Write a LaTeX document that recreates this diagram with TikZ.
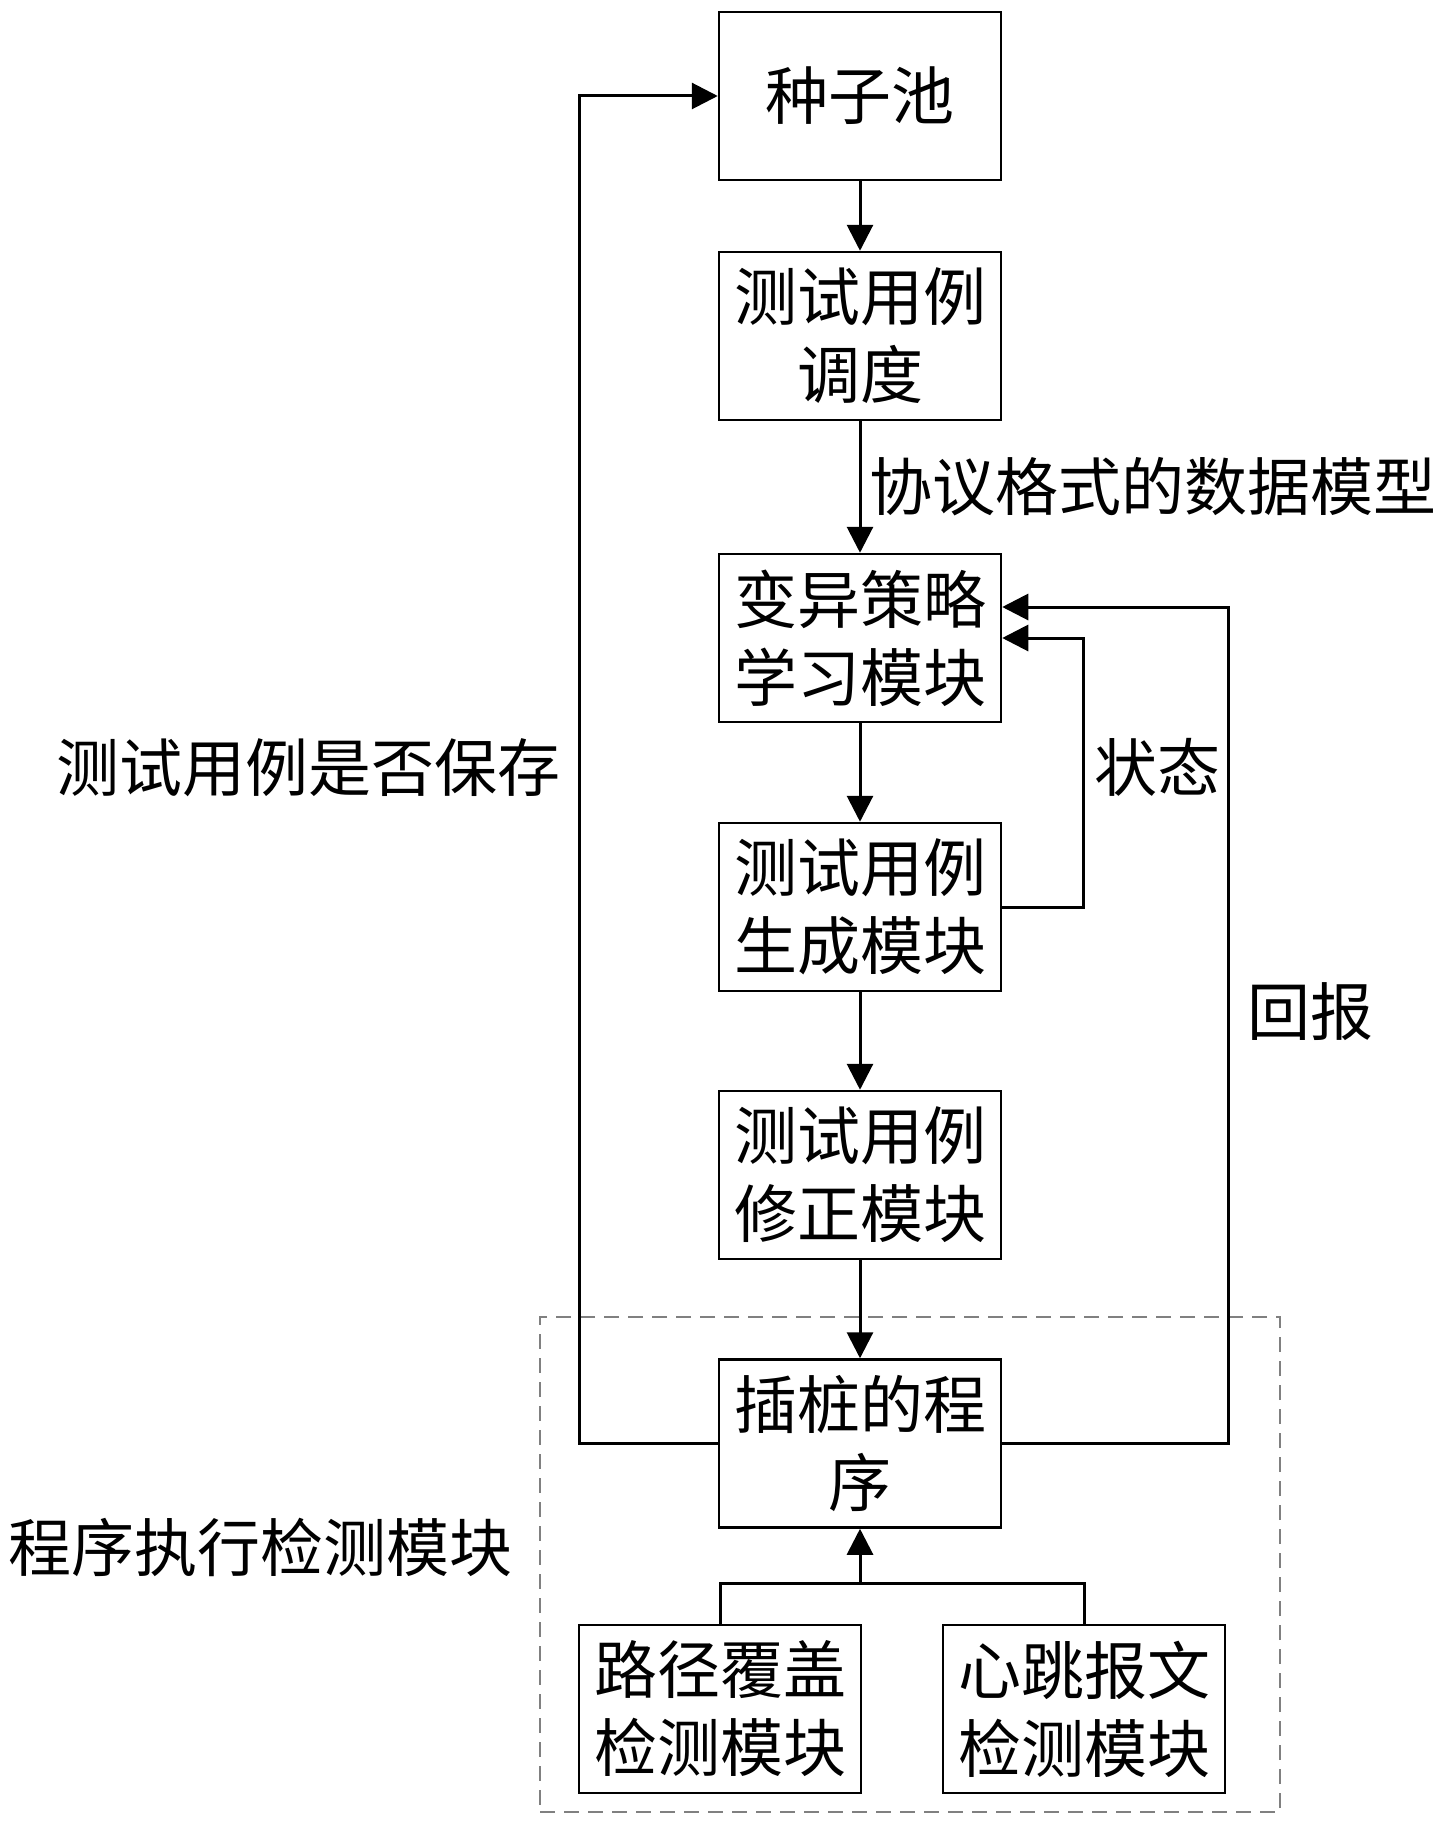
\documentclass[tikz,border=0pt]{standalone}
\usepackage{fontspec}
\newfontfamily\cjk{Noto Sans CJK SC}
\usetikzlibrary{arrows.meta}
\tikzset{
  box/.style={draw, line width=2.5pt, minimum width=282pt, minimum height=168pt, inner sep=0pt, align=center, font=\cjk\fontsize{63}{78}\selectfont},
  lbl/.style={anchor=west, inner sep=0pt, font=\cjk\fontsize{63}{78}\selectfont},
  conn/.style={line width=3pt},
  arr/.style={conn, -{Triangle[length=26pt,width=26pt]}},
  grpbox/.style={draw=gray, line width=1.6pt, dash pattern=on 15pt off 9pt, minimum width=740pt, minimum height=495pt, inner sep=0pt}
}
\begin{document}
\begin{tikzpicture}[x=1pt,y=-1pt]
\useasboundingbox (0,0) rectangle (1445,1838);
% group
\node[grpbox] (grp) at (910,1564.5) {};
% boxes
\node[box] (seed)  at (860,96)     {种子池};
\node[box] (sched) at (860,336)    {测试用例\\调度};
\node[box] (mut)   at (860,638)    {变异策略\\学习模块};
\node[box] (gen)   at (860,907)    {测试用例\\生成模块};
\node[box] (fix)   at (860,1175)   {测试用例\\修正模块};
\node[box] (prog)  at (860,1443.5) {插桩的程\\序};
\node[box] (path)  at (720,1709)   {路径覆盖\\检测模块};
\node[box] (hb)    at (1084,1709)  {心跳报文\\检测模块};
% labels
\node[lbl] (lmodel) at (869,487)  {协议格式的数据模型};
\node[lbl] (lsave)  at (56,768)   {测试用例是否保存};
\node[lbl] (lstate) at (1094,767) {状态};
\node[lbl] (lret)   at (1247,1012) {回报};
\node[lbl] (lgrp)   at (8,1547)   {程序执行检测模块};
% helper coordinates
\coordinate (lx) at (579,0);
\coordinate (rx) at (1228,607);
\coordinate (ix) at (1083,0);
\coordinate (my) at (0,1583);
% main flow
\draw[arr] (seed) -- (sched);
\draw[arr] (sched) -- (mut);
\draw[arr] (mut) -- (gen);
\draw[arr] (gen) -- (fix);
\draw[arr] (fix) -- (prog);
% loops
\draw[arr] (prog.west) -- (prog.west -| lx) |- (seed.west);
\draw[arr] (prog.east) -| (rx) -- (mut.east |- rx);
\draw[arr] (gen.east) -- (gen.east -| ix) |- (mut.east);
% merge
\draw[conn] (path.north) -- (path.north |- my) -- (hb.north |- my) -- (hb.north);
\draw[arr] (prog.south |- my) -- (prog.south);
\end{tikzpicture}
\end{document}
